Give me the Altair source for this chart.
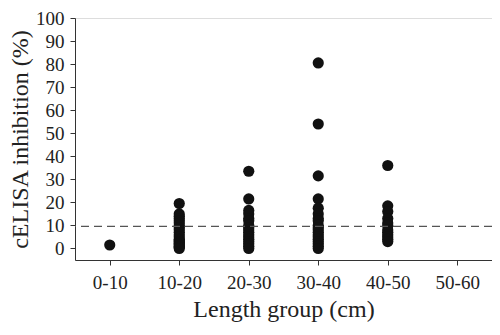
import altair as alt
import pandas as pd

groups = ["0-10", "10-20", "20-30", "30-40", "40-50", "50-60"]

g0_10 = [1.5]
g10_20 = [19.5, 15, 14, 13, 12, 11, 10, 9, 8, 7, 6, 5, 4, 3.5, 3, 2.5, 2, 1.5, 1, 0.5, 0]
g20_30 = [33.5, 21.5, 16.5, 15, 13, 12, 10, 9, 8, 7, 6, 5, 4, 3, 2, 1, 0]
g30_40 = [80.5, 54, 31.5, 21.5, 17.5, 15, 13, 12, 10, 9, 8, 7, 6, 5, 4, 3, 2, 1, 0]
g40_50 = [36, 18.5, 16, 13, 11, 10, 8, 7, 6, 5, 4, 3]
y_ticks = [0, 10, 20, 30, 40, 50, 60, 70, 80, 90, 100]
threshold = [9.6]

rows = []
for g, vals in zip(groups[:5], [g0_10, g10_20, g20_30, g30_40, g40_50]):
    for v in vals:
        rows.append({"group": g, "value": v})
df = pd.DataFrame(rows)

FONT = "Liberation Serif"
YDOM = [-5, 100]

yaxis = alt.Axis(title="cELISA inhibition (%)", values=y_ticks,
                 titlePadding=3, labelPadding=6, labelOverlap=False,
                 labelFlush=False, labelBound=False)

x = alt.X("group:O", scale=alt.Scale(type="point", domain=groups, padding=0.5),
          axis=alt.Axis(title="Length group (cm)", labelAngle=0, titlePadding=5,
                        labelPadding=8, labelOverlap=False))
y = alt.Y("value:Q", scale=alt.Scale(domain=YDOM, nice=False, zero=False), axis=yaxis)

points = alt.Chart(df).mark_circle(size=125, color="#111", opacity=1).encode(x=x, y=y)

rule = alt.Chart(pd.DataFrame({"t": threshold})).mark_rule(
    color="#555", strokeDash=[8, 5], strokeWidth=1.3
).encode(y=alt.Y("t:Q", scale=alt.Scale(domain=YDOM, nice=False, zero=False), axis=yaxis))

chart = alt.layer(points, rule).properties(
    width=417, height=242,
    autosize=alt.AutoSizeParams(type="none"),
    padding={"left": 67, "top": 10, "right": 0, "bottom": 67},
).configure_view(stroke=None).configure(font=FONT).configure_axis(
    labelFontSize=19, titleFontSize=24, titleFontWeight="normal",
    tickSize=5, domainColor="#333", tickColor="#333",
    labelColor="#222", titleColor="#222", grid=False,
)

chart.save("out.html", embed_options={"renderer": "svg", "actions": False})
